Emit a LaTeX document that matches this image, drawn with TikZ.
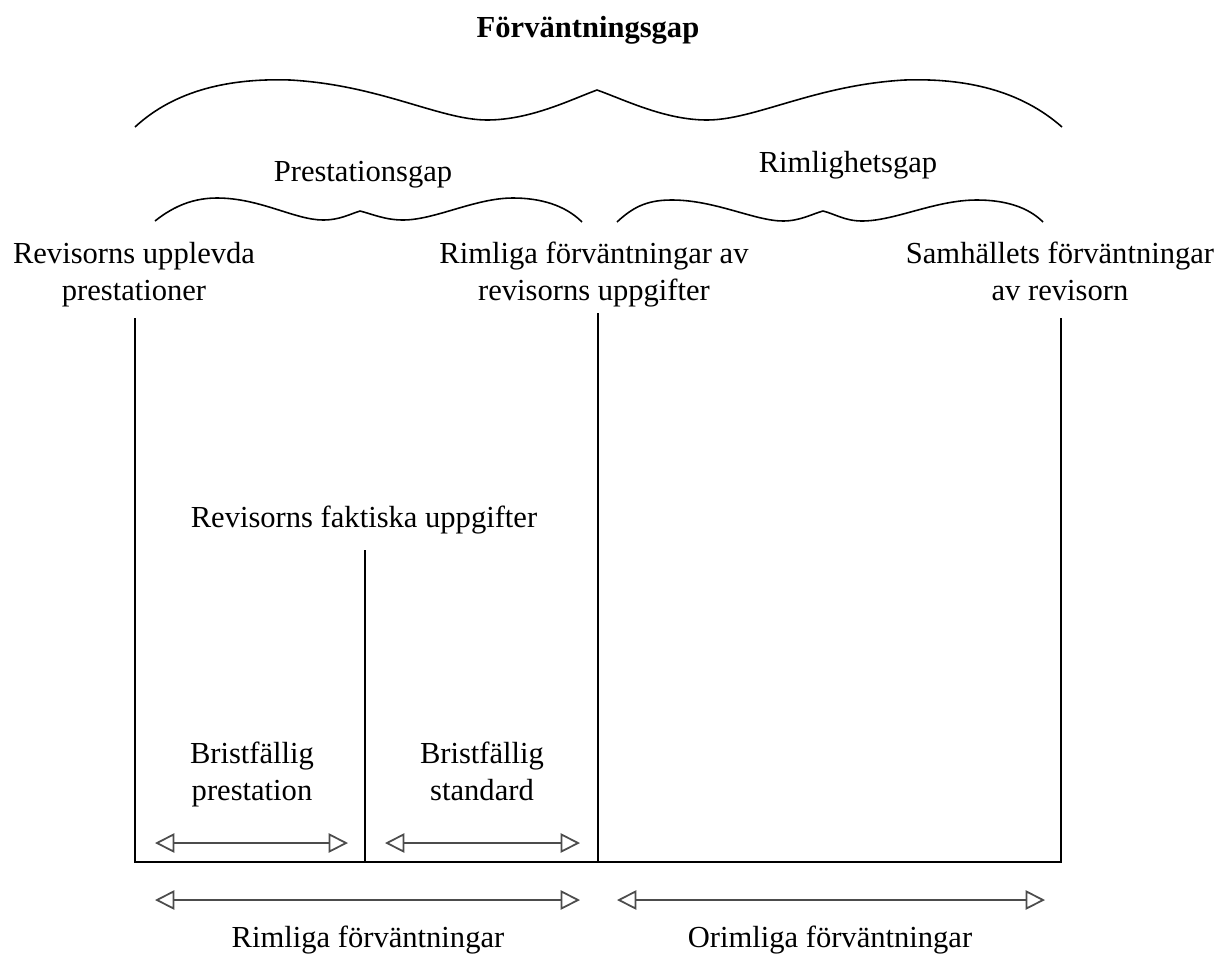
\documentclass[tikz,border=0pt]{standalone}
\usepackage{fontspec}
\setmainfont{Liberation Serif}
\usetikzlibrary{arrows.meta}
\tikzstyle{txt} = [font=\fontsize{17.4}{21}\selectfont, align=center, inner sep=0pt]
\tikzstyle{wall} = [draw, line width=0.9pt]
\tikzstyle{brace} = [draw, line width=0.9pt]
\tikzstyle{span} = [draw=black!70, line width=1.6pt, {Triangle[open,length=11pt,width=11pt,line width=1pt]}-{Triangle[open,length=11pt,width=11pt,line width=1pt]}]

\begin{document}
\begin{tikzpicture}[x=0.02cm, y=-0.02cm]
\useasboundingbox (0,0) rectangle (1224,954);
%
\node[txt, font=\fontsize{17.4}{21}\selectfont\bfseries] (title) at (588,30) {Förväntningsgap};
\node[txt] (prestgap) at (363,175) {Prestationsgap};
\node[txt] (rimgap) at (848,165) {Rimlighetsgap};
%
\node[txt, anchor=north] (upplevda) at (134,242) {Revisorns upplevda\\prestationer};
\node[txt, anchor=north] (rimliga) at (594,242) {Rimliga förväntningar av\\revisorns uppgifter};
\node[txt, anchor=north] (samhallet) at (1060,242) {Samhällets förväntningar\\av revisorn};
\node[txt] (faktiska) at (364,520) {Revisorns faktiska uppgifter};
\node[txt, anchor=north] (bristprest) at (252,742) {Bristfällig\\prestation};
\node[txt, anchor=north] (briststd) at (482,742) {Bristfällig\\standard};
\node[txt] (rimfv) at (368,940) {Rimliga förväntningar};
\node[txt] (orimfv) at (830,940) {Orimliga förväntningar};
%
\draw[brace] (135,127) .. controls (175,90) and (230,78) .. (290,80)
  .. controls (380,85) and (440,120) .. (487,120)
  .. controls (530,120) and (570,100) .. (597,90)
  .. controls (625,100) and (665,120) .. (707,120)
  .. controls (755,120) and (815,85) .. (905,80)
  .. controls (965,78) and (1020,90) .. (1062,127);
\draw[brace] (155,221) .. controls (175,205) and (195,198) .. (217,198)
  .. controls (260,198) and (295,220) .. (323,220)
  .. controls (340,220) and (350,214) .. (360,211)
  .. controls (372,214) and (385,220) .. (403,220)
  .. controls (435,220) and (475,198) .. (513,198)
  .. controls (540,198) and (565,205) .. (582,222);
\draw[brace] (617,222) .. controls (635,205) and (650,200) .. (672,200)
  .. controls (715,200) and (755,221) .. (783,221)
  .. controls (800,221) and (812,214) .. (823,211)
  .. controls (835,214) and (845,221) .. (862,221)
  .. controls (895,221) and (935,200) .. (977,200)
  .. controls (1005,200) and (1028,207) .. (1043,222);
%
\coordinate (a0) at (135,318);
\coordinate (a1) at (135,862);
\coordinate (m0) at (365,550);
\coordinate (m1) at (365,862);
\coordinate (b0) at (598,313);
\coordinate (b1) at (598,862);
\coordinate (c0) at (1061,318);
\coordinate (c1) at (1061,862);
\draw[wall] (a0) -- (a1) -- (c1) -- (c0);
\draw[wall] (m0) -- (m1);
\draw[wall] (b0) -- (b1);
%
\coordinate (p1) at (155,843);
\coordinate (p2) at (348,843);
\coordinate (q1) at (385,843);
\coordinate (q2) at (580,843);
\coordinate (r1) at (155,900);
\coordinate (r2) at (580,900);
\coordinate (o1) at (617,900);
\coordinate (o2) at (1045,900);
\draw[span] (p1) -- (p2);
\draw[span] (q1) -- (q2);
\draw[span] (r1) -- (r2);
\draw[span] (o1) -- (o2);
\end{tikzpicture}
\end{document}
